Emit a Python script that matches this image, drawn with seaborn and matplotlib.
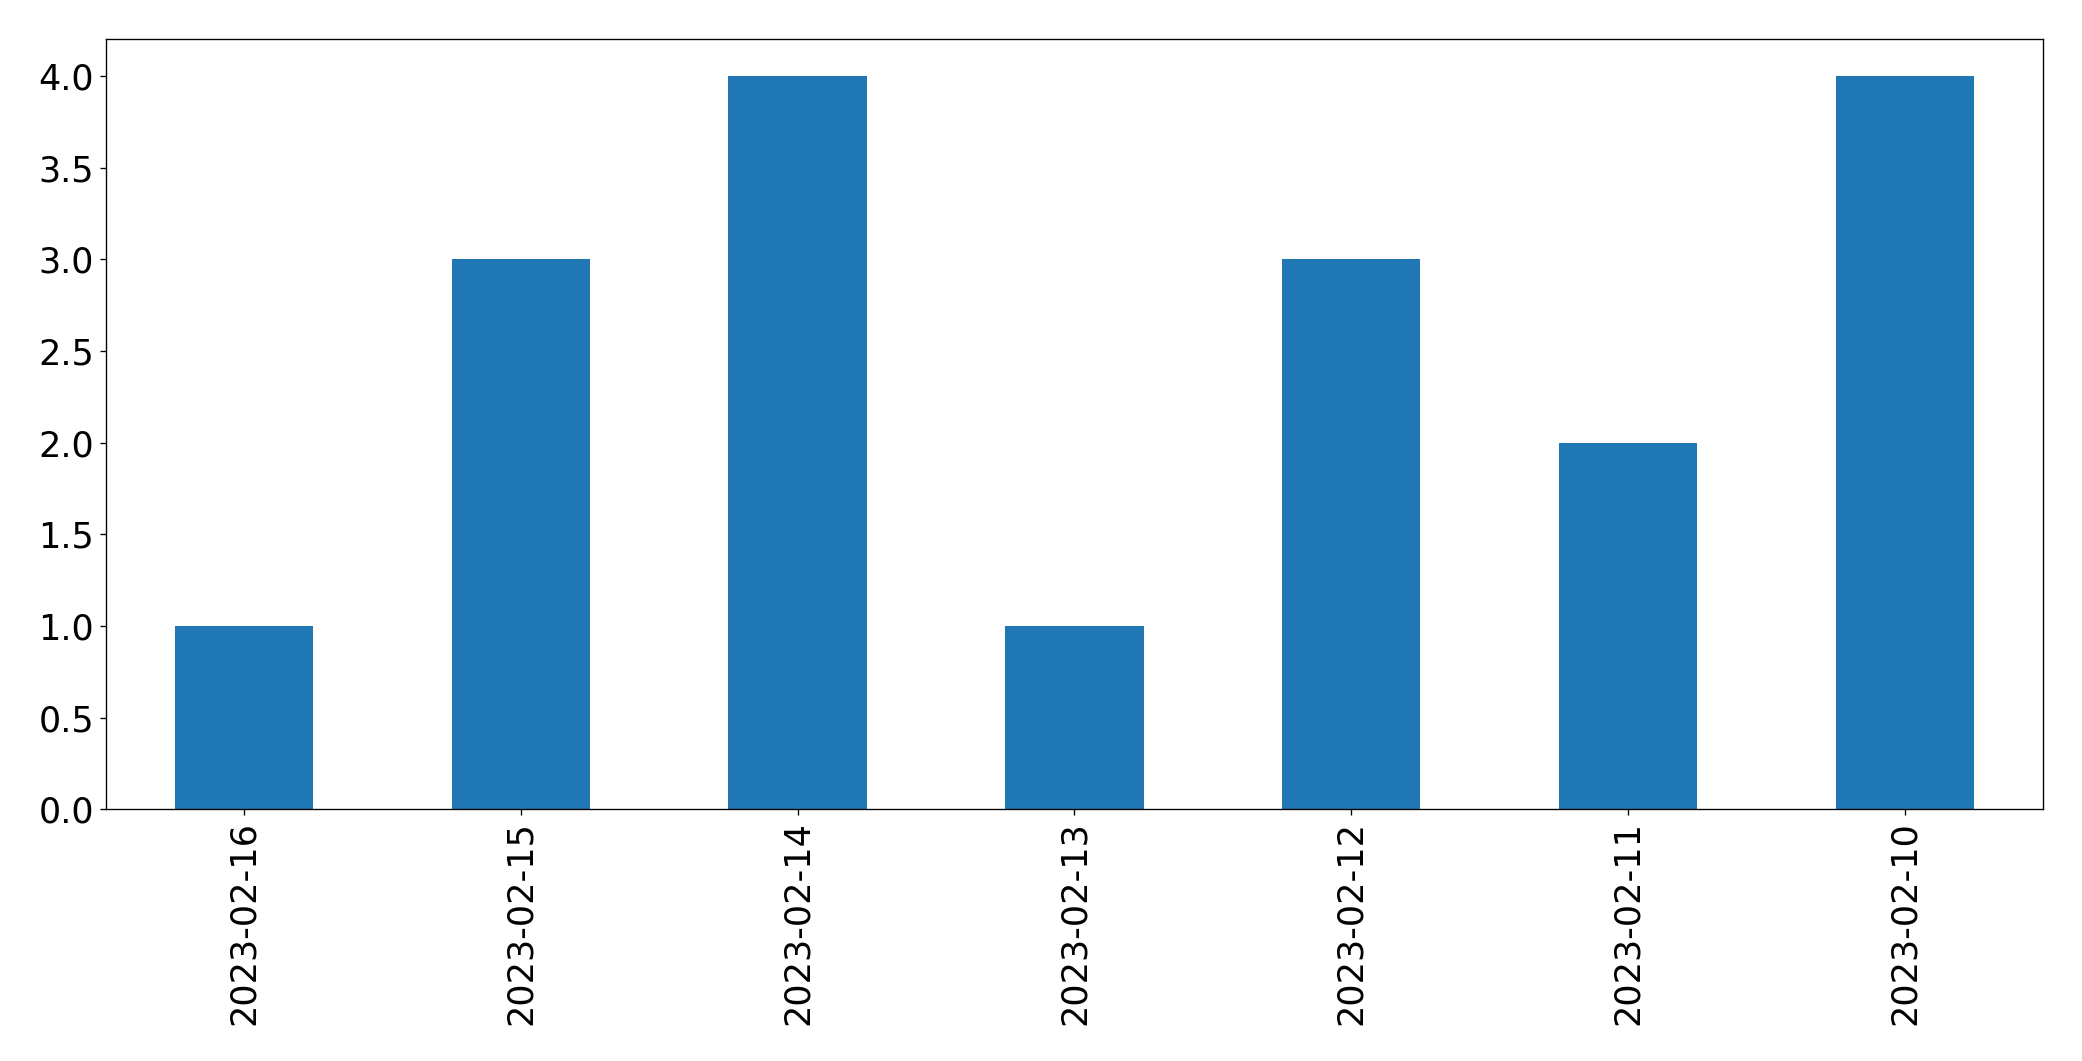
import pandas as pd
import seaborn as sns
import matplotlib
matplotlib.use("Agg")
import matplotlib.pyplot as plt

# data
dates = ["2023-02-16", "2023-02-15", "2023-02-14", "2023-02-13",
         "2023-02-12", "2023-02-11", "2023-02-10"]
counts = [1, 3, 4, 1, 3, 2, 4]

df = pd.DataFrame({"date": dates, "count": counts})

fig, ax = plt.subplots(figsize=(2082 / 120, 1061 / 120), dpi=120)
fig.subplots_adjust(left=0.0507, right=0.9814, top=0.963, bottom=0.2372)

sns.barplot(data=df, x="date", y="count", order=dates, color="#1f77b4",
            saturation=1, width=0.5, linewidth=0, ax=ax)

ax.set_xlim(-0.5, len(dates) - 0.5)
ax.set_ylim(0, 4.2)
ax.set_xlabel("")
ax.set_ylabel("")
ax.tick_params(axis="both", labelsize=21)
ax.tick_params(axis="x", labelrotation=90)

fig.savefig("out.png", dpi=120)
